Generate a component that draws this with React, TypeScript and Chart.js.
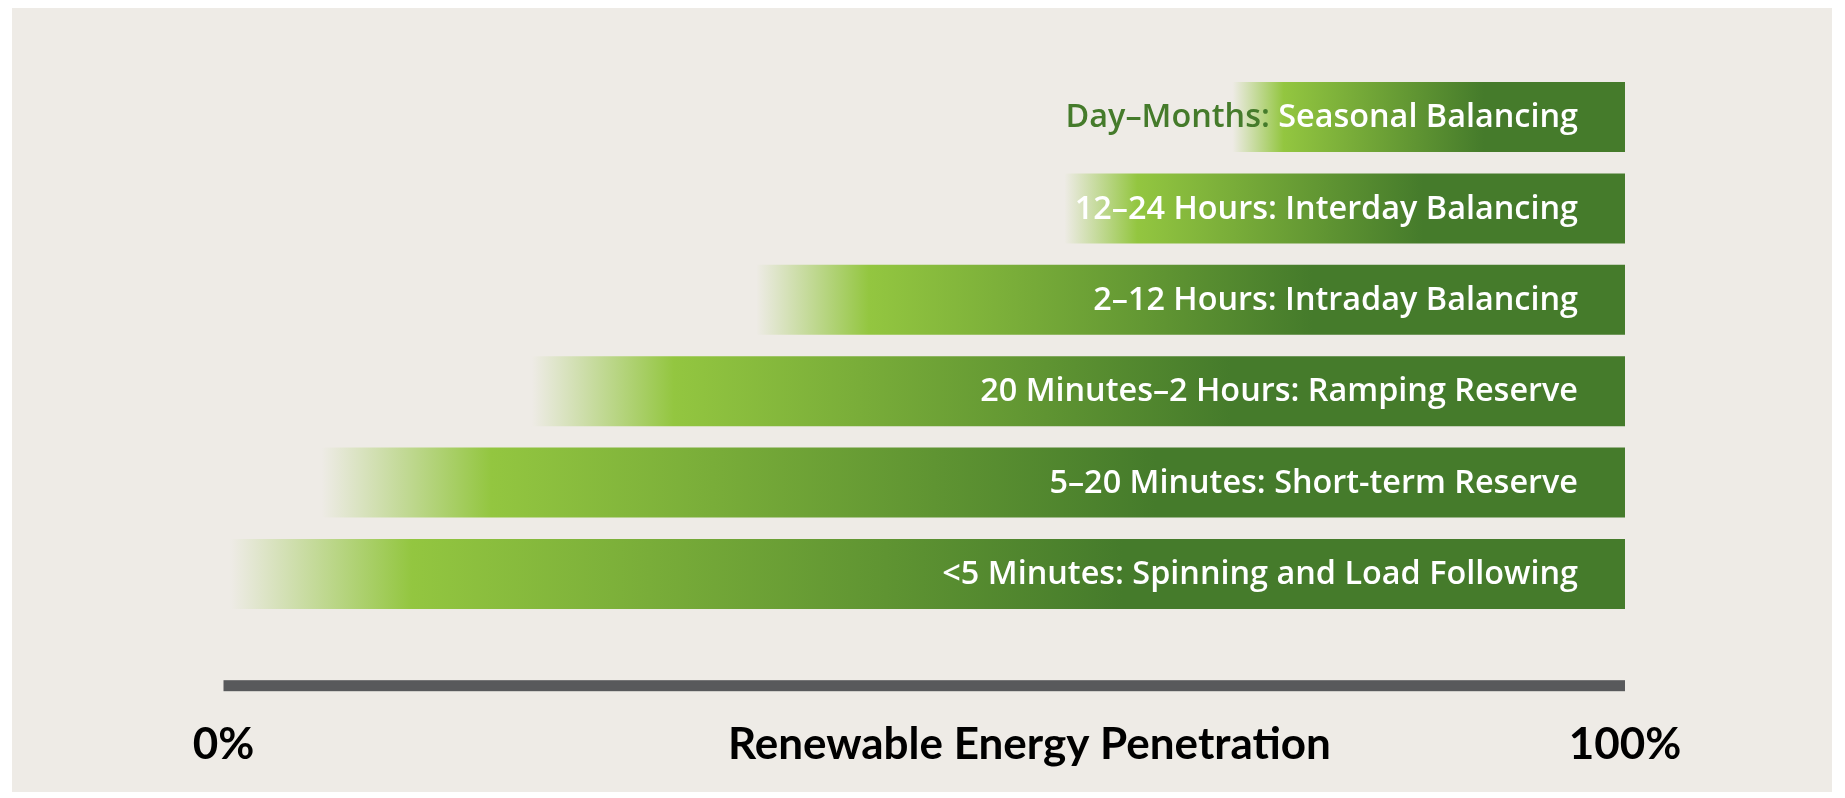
import React, { useEffect, useRef } from "react";
import { Chart, registerables } from "chart.js";

Chart.register(...registerables);

// ---- data ----
const categories = [
  "Day–Months: Seasonal Balancing",
  "12–24 Hours: Interday Balancing",
  "2–12 Hours: Intraday Balancing",
  "20 Minutes–2 Hours: Ramping Reserve",
  "5–20 Minutes: Short-term Reserve",
  "<5 Minutes: Spinning and Load Following",
];
const startValues = [72, 60, 38, 22, 7, 0.5];
const endValues = [100, 100, 100, 100, 100, 100];
const tickValues = [0, 100];
const tickLabels = ["0%", "100%"];
const axisTitle = "Renewable Energy Penetration";
const titleCenterValue = 57.5;

// ---- style ----
const PANEL_BG = "#eeebe6";
const LIGHT_GREEN = "#93c640";
const DARK_GREEN = "#457b2b";
const AXIS_GREY = "#58595b";
const LABEL_FAMILY = "'Open Sans', Lato, sans-serif";
const AXIS_FAMILY = "Lato, 'Open Sans', sans-serif";
const LABEL_SIZE = 32.4;
const AXIS_SIZE = 44;
const TICK_PADDING = 99;
const LABEL_INSET = 47;
const AXIS_BAR_OFFSET = 60.5;
const AXIS_BAR_THICKNESS = 11;

export default function App() {
  const ref = useRef<HTMLCanvasElement>(null);

  useEffect(() => {
    const canvas = ref.current;
    if (!canvas) return;

    const barGradient = (ctx: any) => {
      const chart = ctx.chart;
      const raw = ctx.raw as number[] | undefined;
      const xs = chart.scales?.x;
      if (!raw || !xs || !chart.chartArea) return DARK_GREEN;
      const x0 = xs.getPixelForValue(raw[0]);
      const x1 = xs.getPixelForValue(raw[1]);
      const g = chart.ctx.createLinearGradient(x0, 0, x1, 0);
      g.addColorStop(0, PANEL_BG);
      g.addColorStop(0.13, LIGHT_GREEN);
      g.addColorStop(0.64, DARK_GREEN);
      g.addColorStop(1, DARK_GREEN);
      return g;
    };

    const barLabels = {
      id: "barLabels",
      afterDatasetsDraw(chart: any) {
        const { ctx } = chart;
        const x = chart.scales.x;
        const meta = chart.getDatasetMeta(0);
        ctx.save();
        ctx.font = `600 ${LABEL_SIZE}px ${LABEL_FAMILY}`;
        ctx.textBaseline = "middle";
        meta.data.forEach((bar: any, i: number) => {
          const label = categories[i];
          const right = x.getPixelForValue(endValues[i]) - LABEL_INSET;
          const w = ctx.measureText(label).width;
          const left = right - w;
          const barLeft = x.getPixelForValue(startValues[i]);
          const y = bar.y + 1;
          if (left < barLeft) {
            const idx = label.indexOf(":") + 1;
            const prefix = label.slice(0, idx);
            const rest = label.slice(idx);
            ctx.textAlign = "left";
            ctx.fillStyle = DARK_GREEN;
            ctx.fillText(prefix, left, y);
            ctx.fillStyle = "#ffffff";
            ctx.fillText(rest, left + ctx.measureText(prefix).width, y);
          } else {
            ctx.textAlign = "right";
            ctx.fillStyle = "#ffffff";
            ctx.fillText(label, right, y);
          }
        });
        ctx.restore();
      },
    };

    const axisDecor = {
      id: "axisDecor",
      afterDraw(chart: any) {
        const { ctx, chartArea } = chart;
        const x = chart.scales.x;
        const x0 = x.getPixelForValue(tickValues[0]);
        const x1 = x.getPixelForValue(tickValues[tickValues.length - 1]);
        ctx.save();
        ctx.fillStyle = AXIS_GREY;
        ctx.fillRect(x0, chartArea.bottom + AXIS_BAR_OFFSET, x1 - x0, AXIS_BAR_THICKNESS);
        ctx.font = `bold ${AXIS_SIZE}px ${AXIS_FAMILY}`;
        ctx.fillStyle = "#000000";
        ctx.textAlign = "center";
        ctx.textBaseline = "middle";
        const ty = x.top + TICK_PADDING + (AXIS_SIZE * 1.2) / 2;
        ctx.fillText(axisTitle, x.getPixelForValue(titleCenterValue), ty);
        ctx.restore();
      },
    };

    const chart = new Chart(canvas, {
      type: "bar",
      data: {
        labels: categories,
        datasets: [
          {
            data: startValues.map((s, i) => [s, endValues[i]]) as any,
            backgroundColor: barGradient as any,
            borderWidth: 0,
            borderSkipped: false,
            barPercentage: 1,
            categoryPercentage: 0.766,
          },
        ],
      },
      options: {
        indexAxis: "y",
        animation: false,
        responsive: false,
        devicePixelRatio: 1,
        layout: {
          padding: { left: 223.5, right: 220, top: 71.3, bottom: 28.3 },
        },
        plugins: {
          legend: { display: false },
          tooltip: { enabled: false },
          title: { display: false },
        },
        scales: {
          x: {
            type: "linear",
            min: 0,
            max: 100,
            grid: { display: false, drawTicks: false },
            border: { display: false },
            afterBuildTicks: (axis: any) => {
              axis.ticks = tickValues.map((v) => ({ value: v }));
            },
            afterFit: (axis: any) => {
              axis.height = 150;
            },
            ticks: {
              autoSkip: false,
              maxRotation: 0,
              padding: TICK_PADDING,
              color: "#000000",
              font: { family: AXIS_FAMILY, size: AXIS_SIZE, weight: "bold", lineHeight: 1.2 },
              callback: (v: any) => {
                const i = tickValues.indexOf(Number(v));
                return i >= 0 ? tickLabels[i] : "";
              },
            },
          },
          y: {
            type: "category",
            display: false,
            grid: { display: false },
          },
        },
      },
      plugins: [barLabels, axisDecor],
    });

    return () => chart.destroy();
  }, []);

  return (
    <div
      style={{
        position: "absolute",
        left: 0,
        top: 0,
        width: 1845,
        height: 798,
        background: "#ffffff",
        overflow: "hidden",
      }}
    >
      <div
        style={{
          position: "absolute",
          left: 12,
          top: 8,
          width: 1820,
          height: 784,
          background: PANEL_BG,
        }}
      />
      <canvas
        ref={ref}
        width={1845}
        height={798}
        style={{ position: "absolute", left: 0, top: 0, width: 1845, height: 798 }}
      />
    </div>
  );
}
